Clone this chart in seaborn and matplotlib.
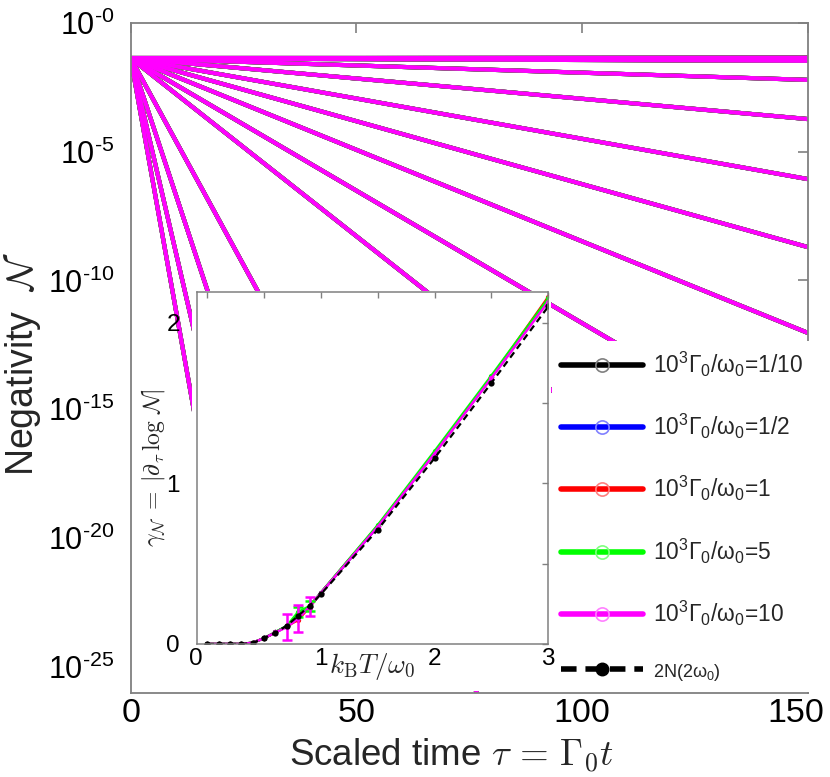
import numpy as np
import pandas as pd
import matplotlib
matplotlib.use('Agg')
import matplotlib.pyplot as plt
import matplotlib.transforms as mtransforms
import seaborn as sns
from matplotlib.lines import Line2D
from matplotlib.patches import Rectangle
from matplotlib.ticker import FixedLocator, FuncFormatter, NullLocator

sns.set_style('white')
plt.rcParams['font.family'] = ['Liberation Sans', 'DejaVu Sans']
plt.rcParams['mathtext.fontset'] = 'custom'
plt.rcParams['mathtext.rm'] = 'Liberation Sans'
plt.rcParams['mathtext.it'] = 'Liberation Sans:italic'
plt.rcParams['mathtext.bf'] = 'Liberation Sans:bold'

# ---------------- data ----------------
temps = [0.0, 0.1, 0.2, 0.3, 0.4, 0.5, 0.6, 0.7, 0.8, 0.9, 1.0, 1.5, 2.0, 2.5, 3.0]

# main panel: each temperature gives one straight line in log scale
logN_start = [-1.38] * 15
tau_end = [150, 150, 150, 150, 150, 150, 150, 150, 150, 150, 150, 76.7, 45.5, 32.0, 24.7]
logN_end = [-1.36, -1.38, -1.42, -1.48, -2.22, -3.74, -6.07, -8.71, -12.04,
            -16.8, -22.1, -26.0, -25.5, -25.5, -25.5]

series_labels = ['1/10', '1/2', '1', '5', '10']
series_colors = ['#000000', '#0000ff', '#ff0000', '#00ff00', '#ff00ff']
marker_colors = ['#808080', '#8080ff', '#ff8080', '#80ff80', '#ff80ff']

# inset: decay rate vs temperature
gamma_g01 = [0, 0, 0, 0, 0.008, 0.036, 0.072, 0.112, 0.165, 0.232, 0.318, 0.732, 1.19, 1.66, 2.14]
gamma_g05 = [0, 0, 0, 0, 0.008, 0.036, 0.072, 0.112, 0.163, 0.232, 0.318, 0.732, 1.19, 1.66, 2.14]
gamma_g1 = [0, 0, 0, 0, 0.008, 0.036, 0.072, 0.110, 0.150, 0.230, 0.318, 0.735, 1.19, 1.66, 2.16]
gamma_g5 = [0, 0, 0, 0, 0.008, 0.036, 0.074, 0.112, 0.200, 0.235, 0.320, 0.740, 1.20, 1.67, 2.15]
gamma_g10 = [0, 0, 0, 0, 0.008, 0.036, 0.072, 0.105, 0.159, 0.232, 0.318, 0.730, 1.185, 1.655, 2.13]
gamma_2N = [0, 0, 0, 0, 0.006, 0.037, 0.070, 0.114, 0.176, 0.238, 0.310, 0.712, 1.157, 1.625, 2.10]
err_g5 = [0, 0, 0, 0, 0, 0, 0, 0, 0.03, 0.03, 0, 0, 0, 0, 0]
err_g10 = [0, 0, 0, 0, 0, 0, 0, 0.08, 0.085, 0.06, 0, 0, 0, 0, 0]

gamma_series = [gamma_g01, gamma_g05, gamma_g1, gamma_g5, gamma_g10]

# ---------------- tables ----------------
rows = []
for lab in series_labels:
    for T, l0, te, le in zip(temps, logN_start, tau_end, logN_end):
        rows.append((lab, T, 0.0, 10.0 ** l0))
        rows.append((lab, T, te, 10.0 ** le))
df_main = pd.DataFrame(rows, columns=['series', 'T', 'tau', 'N'])

rows = []
for lab, g in zip(series_labels, gamma_series):
    for T, v in zip(temps, g):
        rows.append((lab, T, v))
df_in = pd.DataFrame(rows, columns=['series', 'T', 'gamma'])
df_2N = pd.DataFrame({'T': temps, 'gamma': gamma_2N})

W, H = 830, 777
fig = plt.figure(figsize=(W / 100, H / 100), dpi=100)
grey = '#808080'

# ---------------- main axes ----------------
L, R, Tp, B = 130.7, 808, 22.7, 692.7
ax = fig.add_axes([L / W, 1 - B / H, (R - L) / W, (B - Tp) / H])
ax.set_yscale('log')
sns.lineplot(data=df_main, x='tau', y='N', hue='series', hue_order=series_labels,
             palette=series_colors, units='T', estimator=None, sort=False,
             lw=3.0, legend=False, ax=ax)
ax.set_xlim(0, 150)
ax.set_ylim(1e-26, 1)
ax.yaxis.set_major_locator(FixedLocator([10.0 ** (-k) for k in (0, 5, 10, 15, 20, 25)]))
ax.yaxis.set_minor_locator(NullLocator())
ax.yaxis.set_major_formatter(FuncFormatter(
    lambda v, p: r'$\mathregular{10^{' + '\u2010' + '%d}}$' % int(round(-np.log10(v)))))
ax.set_xticks([0, 50, 100, 150])
for s in ax.spines.values():
    s.set_color(grey)
    s.set_linewidth(1.3)
ax.tick_params(axis='both', which='both', direction='in', length=7, width=1.2,
               color=grey, top=True, right=True, labelcolor='black')
ax.tick_params(axis='y', labelsize=22, pad=12)
ax.tick_params(axis='x', labelsize=24.5, pad=4)
ax.set_xlabel(r'Scaled time $\tau\,=\,\Gamma_0 t$', fontsize=26.5, math_fontfamily='cm')
ax.xaxis.set_label_coords(0.474, -0.0655)
ax.set_ylabel(r'Negativity  $\mathcal{N}$', fontsize=27, math_fontfamily='cm')
ax.yaxis.set_label_coords(-0.130, 0.49)

# white area behind inset and its labels
ax.add_patch(Rectangle((192 / W, 1 - 691 / H), (551 - 192) / W, (691 - 291) / H,
                       transform=fig.transFigure, facecolor='white', edgecolor='none',
                       zorder=4))

# legend
handles = []
for c, mc in zip(series_colors, marker_colors):
    handles.append(Line2D([], [], color=c, lw=4.0, marker='o', markersize=9.5,
                          markerfacecolor='none', markeredgecolor=mc, markeredgewidth=1.2))
handles.append(Line2D([], [], color='black', lw=4.0, linestyle=(0, (2.8, 1.6)),
                      marker='o', markersize=9, markerfacecolor='black',
                      markeredgecolor='black'))
labels = [r'$\mathregular{10^3\Gamma_0/\omega_0}$=' + s for s in series_labels]
labels.append(r'2N(2$\mathregular{\omega_0}$)')
leg = ax.legend(handles, labels, loc='upper left', bbox_to_anchor=(552 / W, 1 - 341 / H),
                bbox_transform=fig.transFigure, borderaxespad=0, frameon=True,
                facecolor='white', edgecolor='none', framealpha=1, fancybox=False,
                handlelength=3.6, handletextpad=0.44, labelspacing=1.45, borderpad=0.4,
                fontsize=16.4)
leg.set_zorder(6)
leg.get_texts()[-1].set_fontsize(13)

# ---------------- inset ----------------
iL, iR, iT, iB = 196.7, 548.3, 292, 644
ax_in = fig.add_axes([iL / W, 1 - iB / H, (iR - iL) / W, (iB - iT) / H])
ax_in.set_facecolor('white')
sns.lineplot(data=df_in, x='T', y='gamma', hue='series', hue_order=series_labels,
             palette=series_colors, estimator=None, lw=1.8, marker='o', markersize=3.8,
             markeredgewidth=0, legend=False, ax=ax_in)
for g, e, c in ((gamma_g5, err_g5, series_colors[3]), (gamma_g10, err_g10, series_colors[4])):
    idx = [i for i, v in enumerate(e) if v > 0]
    ax_in.errorbar([temps[i] for i in idx], [g[i] for i in idx], yerr=[e[i] for i in idx],
                   fmt='none', ecolor=c, elinewidth=1.8, capsize=3.5, capthick=1.8)
sns.lineplot(data=df_2N, x='T', y='gamma', color='black', lw=1.6,
             linestyle=(0, (3, 2)), marker='o', markersize=4.5, markeredgewidth=0,
             estimator=None, ax=ax_in)
ax_in.set_xlim(-0.093, 3.0)
ax_in.set_ylim(0, 2.19)
ax_in.set_xticks([0, 1, 2, 3])
ax_in.set_xticks([0.5, 1.5, 2.5], minor=True)
ax_in.set_yticks([0, 1, 2])
ax_in.set_yticks([0.5, 1.5], minor=True)
for s in ax_in.spines.values():
    s.set_color(grey)
    s.set_linewidth(1.1)
ax_in.tick_params(axis='both', which='both', direction='in', length=4, width=1,
                  color=grey, top=True, right=True, labelsize=17.5, labelcolor='black')
ax_in.tick_params(axis='y', pad=12)
ax_in.tick_params(axis='x', pad=3)
ax_in.set_xlabel(r'$k_{\mathrm{B}}T/\omega_0$', fontsize=19.5, math_fontfamily='cm')
ax_in.xaxis.set_label_coords(0.50, -0.02)
ax_in.set_ylabel(r'$\gamma_{\mathcal{N}}\;=\;|\partial_\tau\,\log\,\mathcal{N}|$',
                 fontsize=17, math_fontfamily='cm')
ax_in.yaxis.set_label_coords(-0.085, 0.50)

fig.canvas.draw()
# nudge edge labels as in the reference
lbl = ax.xaxis.get_major_ticks()[-1].label1
lbl.set_transform(lbl.get_transform() + mtransforms.ScaledTranslation(-0.12, 0, fig.dpi_scale_trans))
lbl0 = ax_in.xaxis.get_major_ticks()[0].label1
lbl0.set_transform(lbl0.get_transform() + mtransforms.ScaledTranslation(-0.11, 0, fig.dpi_scale_trans))

fig.savefig('out.png', dpi=100)
